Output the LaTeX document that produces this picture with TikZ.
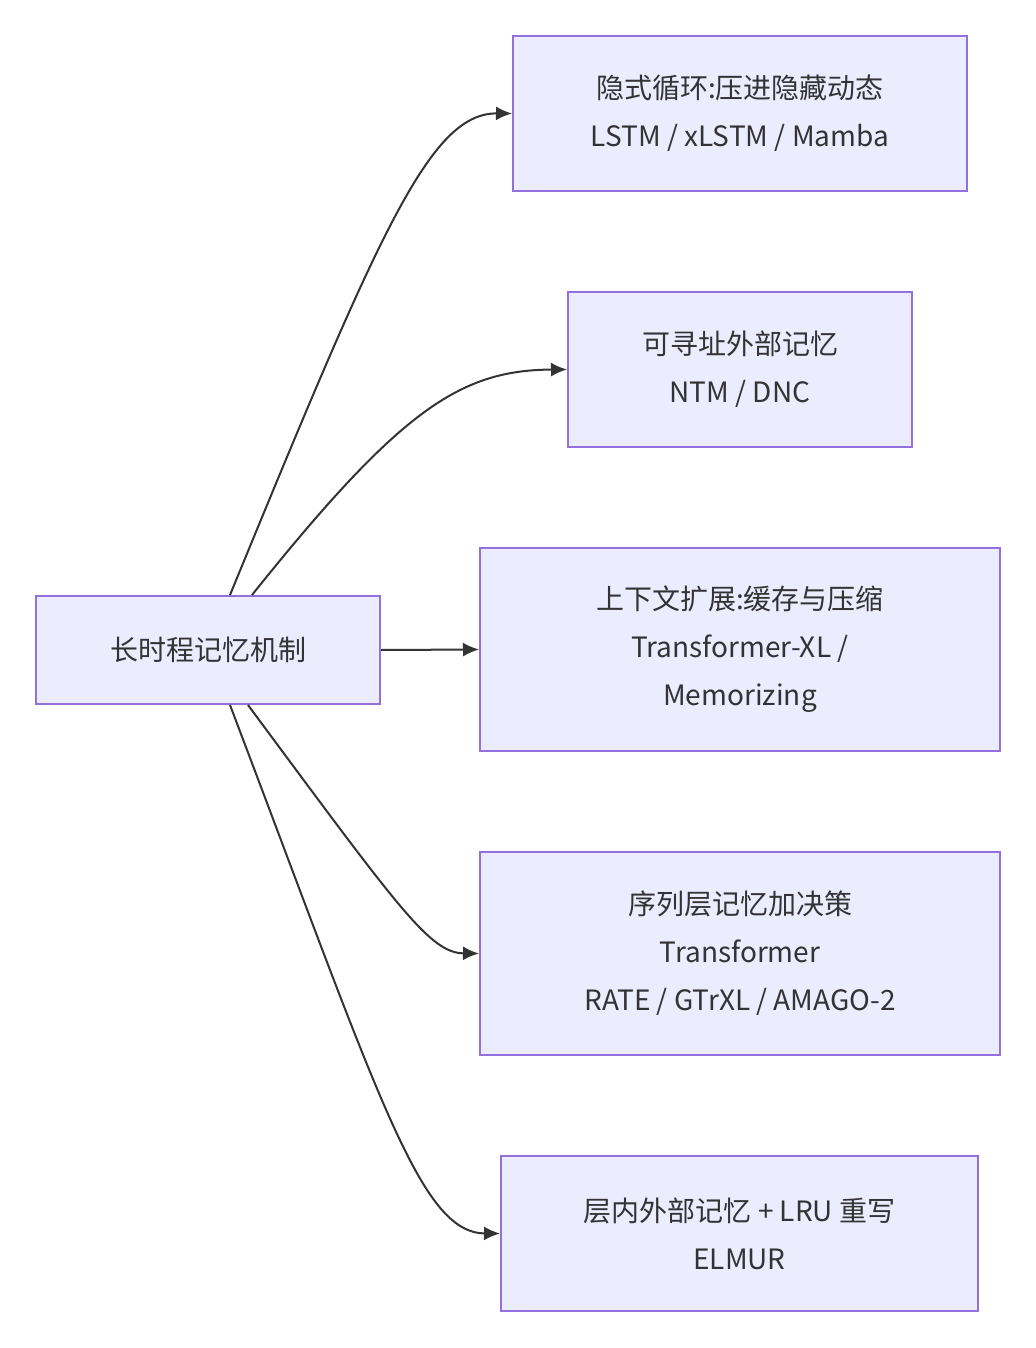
\documentclass[tikz,border=0pt]{standalone}
\usepackage{fontspec}
\setmainfont{Noto Sans CJK SC}
\usetikzlibrary{arrows.meta,calc}
\definecolor{bfill}{HTML}{ECECFF}
\definecolor{bdraw}{HTML}{9370DB}
\definecolor{txt}{HTML}{333333}
\begin{document}
\begin{tikzpicture}[x=0.5pt,y=-0.5pt,
 box/.style={draw=bdraw,fill=bfill,line width=1pt,text=txt,font=\fontsize{14}{24}\selectfont,align=center,inner sep=0pt},
 edge/.style={draw=txt,line width=1pt,-{Latex[length=8pt,width=7pt]}}]
\useasboundingbox (0,0) rectangle (1036,1348);
\node[box,minimum width=172pt,minimum height=54pt] (root) at (208,650) {长时程记忆机制};
\node[box,minimum width=227pt,minimum height=77.5pt] (a) at (740,113.5) {隐式循环:压进隐藏动态\\LSTM / xLSTM / Mamba};
\node[box,minimum width=172pt,minimum height=77.5pt] (b) at (740,369.5) {可寻址外部记忆\\NTM / DNC};
\node[box,minimum width=260pt,minimum height=101.5pt] (c) at (740,649.5) {上下文扩展:缓存与压缩\\Transformer-XL /\\Memorizing};
\node[box,minimum width=260pt,minimum height=101.5pt] (d) at (740,953.5) {序列层记忆加决策\\Transformer\\RATE / GTrXL / AMAGO-2};
\node[box,minimum width=238.5pt,minimum height=77.5pt] (e) at (739.5,1233.5) {层内外部记忆 + LRU 重写\\ELMUR};
\coordinate (ra) at ($(root.north)+(22,0)$);
\coordinate (rb) at ($(root.north)+(44,0)$);
\coordinate (rd) at ($(root.south)+(40,0)$);
\coordinate (re) at ($(root.south)+(22,0)$);
\draw[edge] (ra) .. controls (380,230) and (430,113) .. (a.west);
\draw[edge] (rb) .. controls (400,410) and (460,370) .. (b.west);
\draw[edge] (root.east) -- (c.west);
\draw[edge] (rd) .. controls (400,910) and (430,953) .. (d.west);
\draw[edge] (re) .. controls (380,1100) and (420,1233) .. (e.west);
\end{tikzpicture}
\end{document}
